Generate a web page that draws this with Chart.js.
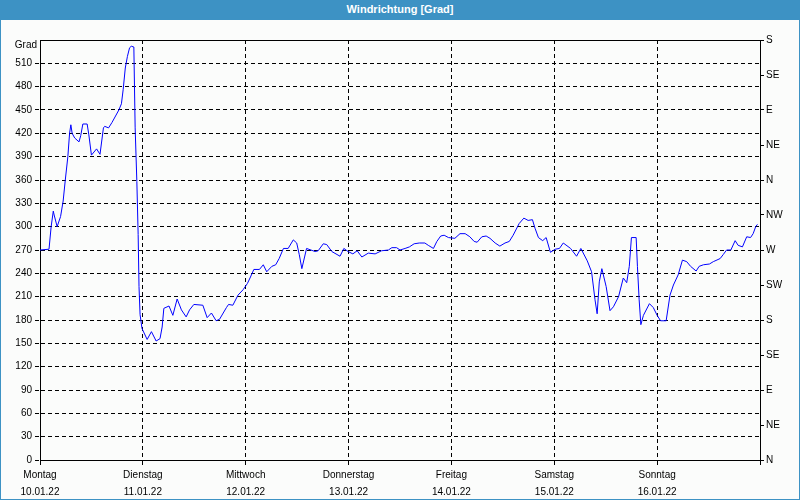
<!DOCTYPE html>
<html>
<head>
<meta charset="utf-8">
<script src="https://cdn.jsdelivr.net/npm/chart.js@4"></script>
<style>
  html, body { margin: 0; padding: 0; background: #fbfcfb; }
  #wrap { position: relative; width: 800px; height: 500px; background: #fbfcfb; overflow: hidden; }
  #title { position: absolute; left: 0; top: 0; width: 800px; height: 20px; background: #3d92c4;
           color: #fff; font: bold 11px "Liberation Sans", Arial, sans-serif; text-align: center; line-height: 19px; }
  #cv { position: absolute; left: 0; top: 20px; }
  #frame { position: absolute; left: 0; top: 0; width: 800px; height: 500px; box-sizing: border-box;
           border: 1px solid #3d92c4; pointer-events: none; }
</style>
</head>
<body>
<div id="wrap">
  <div id="title">Windrichtung [Grad]</div>
  <canvas id="cv" width="800" height="480"></canvas>
  <div id="frame"></div>
</div>
<script>
// Time in hours since Monday 10.01.22 00:00
const hours = [0, 2.1, 2.6, 3.1, 3.3, 4.0, 4.8, 5.4, 5.9, 6.5, 6.9, 7.2, 7.5, 8.1, 9.1, 9.5, 10.0, 11.0, 11.4, 12.0,
  12.6, 13.2, 14.0, 14.8, 15.1, 16.0, 16.8, 18.4, 19.0, 19.4, 19.9, 20.4, 20.9, 21.3, 21.9, 22.2, 22.6, 22.9, 23.1, 23.35,
  23.8, 25.0, 26.0, 27.1, 28.0, 28.5, 28.9, 30.1, 31.0, 32.0, 33.0, 34.1, 34.9, 35.9, 38.0, 39.0, 40.0, 41.1, 41.9, 43.5,
  44.0, 45.0, 46.2, 47.4, 48.4, 49.0, 49.9, 51.2, 52.1, 52.9, 54.1, 55.0, 55.8, 56.8, 57.9, 59.1, 59.9, 60.5, 61.1, 62.2,
  64.2, 64.9, 66.1, 66.9, 68.1, 70.0, 70.9, 71.9, 73.0, 74.0, 75.1, 76.6, 78.2, 79.7, 81.3, 82.1, 83.2, 84.0, 85.2, 86.2,
  87.3, 88.5, 89.8, 90.6, 91.8, 92.6, 93.5, 94.3, 95.3, 96.8, 98.0, 99.2, 100.3, 101.3, 102.0, 103.1, 104.1, 105.0, 106.2, 107.3,
  108.5, 109.5, 110.4, 111.8, 112.9, 113.9, 114.9, 115.5, 116.3, 117.3, 118.1, 119.1, 120.2, 121.2, 122.1, 123.8, 125.2, 126.2, 127.7, 128.7,
  129.5, 130.0, 130.5, 131.1, 132.1, 133.0, 133.8, 135.0, 136.1, 136.9, 137.5, 138.0, 139.1, 139.4, 139.8, 140.2, 140.8, 142.2, 143.1, 144.0,
  144.8, 146.1, 147.0, 147.8, 148.9, 149.9, 150.9, 151.8, 153.1, 153.8, 154.8, 156.2, 157.1, 158.7, 159.4, 160.2, 161.2, 162.2, 162.9, 163.9,
  164.9, 165.8, 166.4, 167.0, 167.4];
const degrees = [270, 271, 300, 320, 315, 300, 313, 333, 360, 390, 420, 431, 420, 414, 409, 417, 432, 432, 418, 392,
  396, 400, 393, 427, 429, 427, 434, 450, 458, 476, 504, 519, 530, 532, 531, 427, 358, 290, 223, 187,
  169, 155, 165, 153, 156, 171, 195, 198, 186, 207, 193, 184, 193, 200, 199, 183, 189, 179, 181, 196,
  200, 199, 212, 219, 227, 234, 245, 245, 251, 242, 249, 251, 259, 272, 272, 283, 279, 264, 246, 272,
  268, 269, 278, 277, 268, 262, 272, 268, 265, 269, 261, 266, 265, 269, 270, 273, 273, 270, 272, 274,
  278, 279, 279, 276, 272, 281, 288, 289, 286, 285, 291, 291, 287, 281, 280, 287, 288, 285, 279, 275,
  279, 281, 289, 304, 311, 308, 309, 298, 286, 282, 286, 267, 271, 272, 279, 272, 262, 272, 256, 242,
  206, 188, 229, 246, 223, 192, 197, 210, 234, 228, 249, 286, 286, 249, 206, 174, 186, 201, 196, 186,
  179, 179, 212, 225, 238, 257, 255, 249, 243, 249, 251, 252, 255, 259, 264, 270, 270, 282, 276, 274,
  287, 286, 291, 300, 303];

const dayNames = ["Montag", "Dienstag", "Mittwoch", "Donnerstag", "Freitag", "Samstag", "Sonntag"];
const dayDates = ["10.01.22", "11.01.22", "12.01.22", "13.01.22", "14.01.22", "15.01.22", "16.01.22"];
const compass = ["N", "NE", "E", "SE", "S", "SW", "W", "NW", "N", "NE", "E", "SE", "S"];

const points = hours.map((h, i) => ({ x: h, y: degrees[i] }));
const FONT = { family: "'Liberation Sans', Arial, sans-serif", size: 10 };

const framePlugin = {
  id: 'frame',
  afterDraw(chart) {
    const { ctx, chartArea: a } = chart;
    ctx.save();
    ctx.strokeStyle = '#000';
    ctx.lineWidth = 1;
    ctx.setLineDash([]);
    ctx.beginPath();
    ctx.moveTo(a.left, a.top + 0.5);
    ctx.lineTo(a.right, a.top + 0.5);
    ctx.stroke();
    ctx.fillStyle = '#000';
    ctx.font = "10px 'Liberation Sans', Arial, sans-serif";
    ctx.textAlign = 'right';
    ctx.textBaseline = 'middle';
    ctx.fillText('Grad', a.left - 3, a.top + 5);
    ctx.restore();
  }
};

new Chart(document.getElementById('cv'), {
  type: 'line',
  data: {
    datasets: [{
      data: points,
      borderColor: '#0000ff',
      borderWidth: 1,
      pointRadius: 0,
      tension: 0,
      fill: false
    }]
  },
  options: {
    responsive: false,
    animation: false,
    layout: { padding: { top: 20, right: 0, left: 0, bottom: 0 } },
    plugins: { legend: { display: false }, tooltip: { enabled: false }, title: { display: false } },
    scales: {
      x: {
        type: 'linear',
        min: 0, max: 168,
        afterFit(s) { s.height = 40; },
        border: { display: true, color: '#000', width: 1, dash: [4, 3] },
        grid: {
          color: '#000', lineWidth: 1,
          drawTicks: true, tickLength: 5, tickColor: '#000', tickBorderDash: [],
        },
        ticks: {
          stepSize: 24, autoSkip: false, maxRotation: 0, color: '#000', font: { ...FONT, lineHeight: 1.7 }, padding: 2,
          callback(v) { const i = Math.round(v / 24); return i < dayNames.length ? [dayNames[i], dayDates[i]] : ''; }
        }
      },
      y: {
        position: 'left',
        min: 0, max: 540,
        afterFit(s) { s.width = 40; },
        border: { display: true, color: '#000', width: 1, dash: [4, 3] },
        grid: {
          color: '#000', lineWidth: 1,
          drawTicks: true, tickLength: 5, tickBorderDash: [4, 3],
          tickColor: (c) => (c.tick && c.tick.value === 540 ? 'rgba(0,0,0,0)' : '#000')
        },
        ticks: {
          stepSize: 30, color: '#000', font: FONT, padding: 3,
          callback(v) { return v === 540 ? '' : String(v); }
        }
      },
      y2: {
        position: 'right',
        min: 0, max: 540,
        afterFit(s) { s.width = 40; },
        border: { display: true, color: '#000', width: 1 },
        grid: { drawOnChartArea: false, drawTicks: true, tickLength: 4, tickColor: '#000' },
        ticks: {
          stepSize: 45, color: '#000', font: FONT, padding: 2,
          callback(v) { const i = Math.round(v / 45); return compass[i] !== undefined ? compass[i] : ''; }
        }
      }
    }
  },
  plugins: [framePlugin]
});
</script>
</body>
</html>
